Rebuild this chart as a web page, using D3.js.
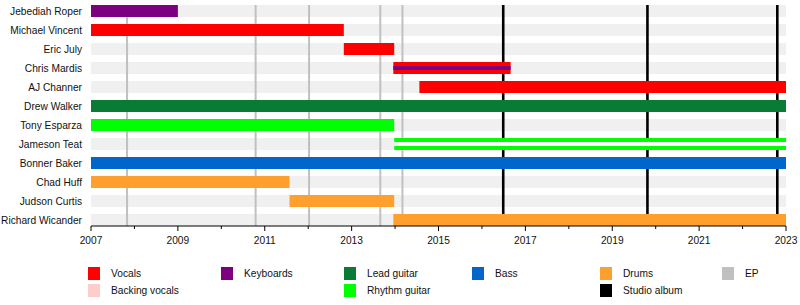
<!DOCTYPE html>
<html>
<head>
<meta charset="utf-8">
<script src="https://cdn.jsdelivr.net/npm/d3@7"></script>
<style>
  body { margin: 0; background: #fff; }
  svg text { font-family: "Liberation Sans", Arial, sans-serif; font-size: 10.2px; fill: #111; }
</style>
</head>
<body>
<svg id="chart"></svg>
<script>
// Band members, top to bottom
const members = ["Jebediah Roper", "Michael Vincent", "Eric July", "Chris Mardis", "AJ Channer",
  "Drew Walker", "Tony Esparza", "Jameson Teat", "Bonner Baker", "Chad Huff", "Judson Curtis",
  "Richard Wicander"];

// [member, role, from, to]
const stints = [
  ["Jebediah Roper", "Keyboards", 2007, 2009.0],
  ["Michael Vincent", "Vocals", 2007, 2012.82],
  ["Eric July", "Vocals", 2012.82, 2013.98],
  ["Chris Mardis", "Vocals", 2013.96, 2016.66],
  ["AJ Channer", "Vocals", 2014.56, 2023],
  ["Drew Walker", "Lead guitar", 2007, 2023],
  ["Tony Esparza", "Rhythm guitar", 2007, 2013.98],
  ["Jameson Teat", "Rhythm guitar", 2013.98, 2023],
  ["Bonner Baker", "Bass", 2007, 2023],
  ["Chad Huff", "Drums", 2007, 2011.57],
  ["Judson Curtis", "Drums", 2011.57, 2013.98],
  ["Richard Wicander", "Drums", 2013.96, 2023]
];

// thin inner stripes drawn over the main bars
const stripes = [
  ["Chris Mardis", "Keyboards", 2013.96, 2016.66],
  ["Jameson Teat", "blank", 2013.98, 2023]
];

const epReleases = [2007.83, 2010.79, 2012.02, 2013.66, 2014.17];
const albumReleases = [2016.49, 2019.81, 2022.8];
const yearTicks = d3.range(2007, 2024);

const roleColors = {
  "Vocals": "#ff0000",
  "Backing vocals": "#ffcccc",
  "Keyboards": "#7d0080",
  "Lead guitar": "#0a7b35",
  "Rhythm guitar": "#00ff00",
  "Bass": "#0066cc",
  "Drums": "#ffa02e",
  "EP": "#c0c0c0",
  "Studio album": "#000000",
  "blank": "#ffffff"
};

// legend columns: [label, column, row]
const legendItems = [
  ["Vocals", 0, 0], ["Backing vocals", 0, 1],
  ["Keyboards", 1, 0],
  ["Lead guitar", 2, 0], ["Rhythm guitar", 2, 1],
  ["Bass", 3, 0],
  ["Drums", 4, 0], ["Studio album", 4, 1],
  ["EP", 5, 0]
];
const legendX = [88, 221, 344, 472, 600, 722];

const width = 800, height = 305;
const svg = d3.select("#chart").attr("width", width).attr("height", height);

const x = d3.scaleLinear().domain([2007, 2023]).range([91, 786]);
const y = d3.scaleBand().domain(members).range([5, 226]).paddingInner(0.368).paddingOuter(0);
const bh = y.bandwidth();

// row backgrounds
svg.append("g").selectAll("rect").data(members).join("rect")
  .attr("x", x(2007)).attr("width", x(2023) - x(2007))
  .attr("y", d => y(d)).attr("height", bh)
  .attr("fill", "#f0f0f0");

// release lines (behind bars)
svg.append("g").selectAll("line").data(epReleases).join("line")
  .attr("x1", d => x(d)).attr("x2", d => x(d))
  .attr("y1", 5).attr("y2", 226)
  .attr("stroke", roleColors["EP"]).attr("stroke-width", 2);

svg.append("g").selectAll("line").data(albumReleases).join("line")
  .attr("x1", d => x(d)).attr("x2", d => x(d))
  .attr("y1", 5).attr("y2", 226)
  .attr("stroke", "#000").attr("stroke-width", 2.6);

// bars
svg.append("g").selectAll("rect").data(stints).join("rect")
  .attr("x", d => x(d[2])).attr("width", d => x(d[3]) - x(d[2]))
  .attr("y", d => y(d[0])).attr("height", bh)
  .attr("fill", d => roleColors[d[1]]);

svg.append("g").selectAll("rect").data(stripes).join("rect")
  .attr("x", d => x(d[2])).attr("width", d => x(d[3]) - x(d[2]))
  .attr("y", d => y(d[0]) + bh / 2 - 2).attr("height", 4)
  .attr("fill", d => roleColors[d[1]]);

// member names
svg.append("g").selectAll("text").data(members).join("text")
  .attr("x", 82).attr("y", d => y(d) + bh / 2)
  .attr("dy", "0.35em").attr("text-anchor", "end")
  .text(d => d);

// time axis
const axis = svg.append("g").attr("transform", "translate(0,226)");
axis.append("line").attr("x1", x(2007)).attr("x2", x(2023)).attr("stroke", "#000");
axis.selectAll(".tick").data(yearTicks).join("line")
  .attr("x1", d => x(d)).attr("x2", d => x(d))
  .attr("y1", 0).attr("y2", d => (d % 2 === 1 ? 5 : 3))
  .attr("stroke", "#000");
axis.selectAll("text").data(yearTicks.filter(d => d % 2 === 1)).join("text")
  .attr("x", d => x(d)).attr("y", 14).attr("dy", "0.35em")
  .attr("text-anchor", "middle")
  .text(d => d);

// legend
const leg = svg.append("g").selectAll("g").data(legendItems).join("g")
  .attr("transform", d => `translate(${legendX[d[1]]},${267 + d[2] * 17})`);
leg.append("rect").attr("width", 12).attr("height", 13)
  .attr("fill", d => roleColors[d[0]]);
leg.append("text").attr("x", 23).attr("y", 6.5).attr("dy", "0.35em")
  .text(d => d[0]);
</script>
</body>
</html>
